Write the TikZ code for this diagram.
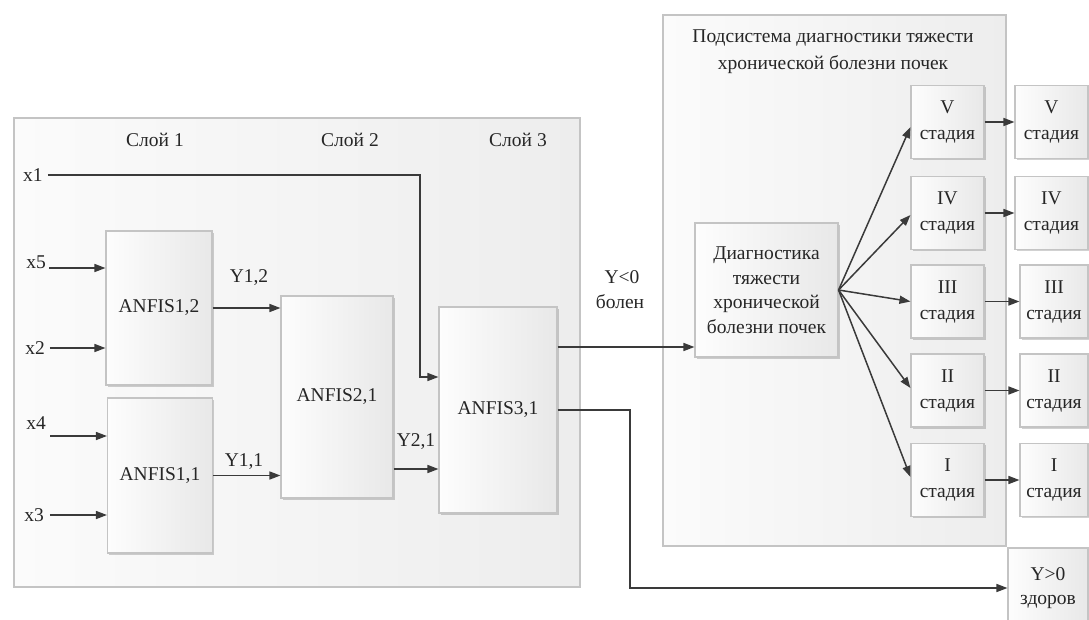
\documentclass[tikz,border=0pt]{standalone}
\usepackage{fontspec}
\setmainfont{Liberation Serif}
\usetikzlibrary{arrows.meta,calc,shadows}
\definecolor{ln}{HTML}{3A3A3A}
\definecolor{bd}{HTML}{C4C4C4}
\definecolor{tx}{HTML}{262626}
\definecolor{gA}{HTML}{FDFDFD}
\definecolor{gB}{HTML}{E8E8E8}
\definecolor{cA}{HTML}{FBFBFB}
\definecolor{cB}{HTML}{EDEDED}
\begin{document}
\begin{tikzpicture}[x=1pt,y=-1pt,
  font=\fontsize{19.5}{24.5}\selectfont, text=tx,
  container/.style={draw=bd,line width=1.2pt,left color=cA,right color=cB,inner sep=0pt},
  box/.style={draw=bd,line width=1.1pt,left color=gA,right color=gB,inner sep=0pt,align=center,
    drop shadow={shadow xshift=1.5pt,shadow yshift=-1.5pt,opacity=0.18,fill=black}},
  stagebox/.style={box,minimum height=73pt,font=\fontsize{19.5}{26}\selectfont},
  conn/.style={draw=ln,line width=1.5pt},
  arr/.style={conn,-{Triangle[length=11pt,width=8pt]}},
  lbl/.style={inner sep=0pt}
]
\clip (0,0) rectangle (1089,619);
\fill[white] (0,0) rectangle (1089,619);

% containers
\node[container,minimum width=566pt,minimum height=469pt] (layers) at (297,352.5) {};
\node[container,minimum width=343pt,minimum height=531pt] (sub) at (834.5,280.5) {};

% layer labels
\node[lbl] (l1) at (155,140) {Слой 1};
\node[lbl] (l2) at (350,140) {Слой 2};
\node[lbl] (l3) at (518,140) {Слой 3};

% ANFIS boxes
\node[box,minimum width=106pt,minimum height=154pt] (a12) at (159,308) {ANFIS1,2};
\node[box,minimum width=105pt,minimum height=155pt] (a11) at (160,475.5) {ANFIS1,1};
\node[box,minimum width=112pt,minimum height=202pt] (a21) at (337,397) {ANFIS2,1};
\node[box,minimum width=118pt,minimum height=206pt] (a31) at (498,410) {ANFIS3,1};

% inputs
\node[lbl] (x1) at (33,175) {x1};
\node[lbl] (x5) at (36,262) {x5};
\node[lbl] (x2) at (35,348) {x2};
\node[lbl] (x4) at (36,423) {x4};
\node[lbl] (x3) at (34,515) {x3};
\coordinate (x5s) at (49,268);
\coordinate (x4s) at (50,436);
\coordinate (k1) at (420,175);
\coordinate (k2) at (630,410);

\draw[arr] ([xshift=5pt]x1.east) -- (k1) |- ([yshift=33pt]a31.west);
\draw[arr] (x5s) -- (x5s -| a12.west);
\draw[arr] ([xshift=5pt]x2.east) -- (x2 -| a12.west);
\draw[arr] (x4s) -- (x4s -| a11.west);
\draw[arr] ([xshift=6pt]x3.east) -- (x3 -| a11.west);

% inner outputs
\node[lbl] (y12) at (249,278) {Y1,2};
\node[lbl] (y11) at (244,462) {Y1,1};
\node[lbl] (y21) at (416,442) {Y2,1};
\draw[arr] (a12.east) -- (a12.east -| a21.west);
\draw[arr] (a11.east) -- (a11.east -| a21.west);
\draw[arr] ([yshift=-72pt]a21.east) -- ([yshift=-72pt]a21.east -| a31.west);

% subsystem
\node[lbl,align=center,font=\fontsize{19.5}{27}\selectfont] (title) at (833,51.5)
  {Подсистема диагностики тяжести\\хронической болезни почек};
\node[box,minimum width=143pt,minimum height=134pt] (diag) at (766.5,290)
  {Диагностика\\тяжести\\хронической\\болезни почек};

\node[stagebox,minimum width=73pt] (sV)   at (947.5,122)   {V\\стадия};
\node[stagebox,minimum width=73pt] (sIV)  at (947.5,213)   {IV\\стадия};
\node[stagebox,minimum width=73pt] (sIII) at (947.5,301.5) {III\\стадия};
\node[stagebox,minimum width=73pt] (sII)  at (947.5,390.5) {II\\стадия};
\node[stagebox,minimum width=73pt] (sI)   at (947.5,480)   {I\\стадия};

\node[stagebox,minimum width=73pt] (oV)   at (1051.5,122)   {V\\стадия};
\node[stagebox,minimum width=73pt] (oIV)  at (1051.5,213)   {IV\\стадия};
\node[stagebox,minimum width=68pt] (oIII) at (1054,301.5)   {III\\стадия};
\node[stagebox,minimum width=68pt] (oII)  at (1054,390.5)   {II\\стадия};
\node[stagebox,minimum width=68pt] (oI)   at (1054,480)     {I\\стадия};

\node[box,minimum width=80pt,minimum height=80pt] (yes) at (1048,588) {Y>0\\здоров};

% outputs of layer 3
\node[lbl] (ylt) at (622,277) {Y<0};
\node[lbl] (sick) at (620,302) {болен};
\draw[arr] ([yshift=63pt]a31.east) -- ([yshift=63pt]a31.east -| diag.west);
\draw[arr] (a31.east) -- (k2) |- (yes.west);

% fan
\draw[arr] (diag.east) -- ([yshift=-5pt]sV.west);
\draw[arr] (diag.east) -- ([yshift=-2pt]sIV.west);
\draw[arr] (diag.east) -- (sIII.west);
\draw[arr] (diag.east) -- ([yshift=2.5pt]sII.west);
\draw[arr] (diag.east) -- ([yshift=3pt]sI.west);

% stage to stage
\draw[arr] (sV.east) -- (oV.west);
\draw[arr] (sIV.east) -- (oIV.west);
\draw[arr] (sIII.east) -- (oIII.west);
\draw[arr] (sII.east) -- (oII.west);
\draw[arr] (sI.east) -- (oI.west);
\end{tikzpicture}
\end{document}
